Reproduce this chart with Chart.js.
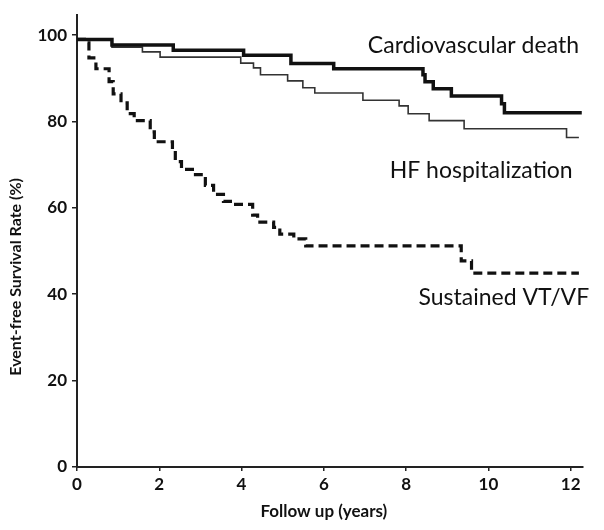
<!DOCTYPE html>
<html>
<head>
<meta charset="utf-8">
<script src="https://cdn.jsdelivr.net/npm/chart.js@4/dist/chart.umd.min.js"></script>
<style>
  html, body { margin: 0; padding: 0; background: #fff; }
  #wrap { width: 604px; height: 530px; }
</style>
</head>
<body>
<div id="wrap"><canvas id="c" width="604" height="530"></canvas></div>
<script>
// ---- data ----
const cvYears = [0, 0.85, 2.34, 4.05, 5.20, 6.24, 8.41, 8.46, 8.66, 9.10, 10.32, 10.39, 12.27];
const cvSurv  = [99.0, 97.7, 96.5, 95.3, 93.4, 92.2, 90.8, 89.2, 87.6, 85.9, 84.1, 82.0, 82.0];

const hfYears = [0, 0.85, 1.59, 2.02, 3.98, 4.29, 4.46, 5.12, 5.49, 5.78, 6.95, 7.83, 8.05, 8.56, 9.41, 11.90, 12.20];
const hfSurv  = [99.0, 97.2, 96.1, 94.9, 93.5, 92.4, 90.8, 89.4, 87.8, 86.6, 84.9, 83.6, 81.8, 80.2, 78.3, 76.3, 76.3];

const vtYears = [0, 0.22, 0.29, 0.46, 0.78, 0.88, 1.07, 1.22, 1.39, 1.78, 1.88, 2.32, 2.39, 2.54, 2.88, 3.12, 3.32, 3.56, 3.80, 4.27, 4.39, 4.78, 4.93, 5.27, 5.56, 9.34, 9.59, 12.20];
const vtSurv  = [99.0, 98.2, 94.7, 92.2, 89.2, 86.4, 84.3, 81.8, 80.2, 77.6, 75.3, 73.5, 70.7, 68.9, 67.7, 65.2, 63.1, 61.5, 60.8, 58.3, 56.7, 55.5, 53.9, 52.8, 51.2, 47.7, 44.9, 44.9];

const seriesNames = ["Cardiovascular death", "HF hospitalization", "Sustained VT/VF"];
const xTicks = [0, 2, 4, 6, 8, 10, 12];
const yTicks = [0, 20, 40, 60, 80, 100];
const xTitle = "Follow up (years)";
const yTitle = "Event-free Survival Rate (%)";

// label anchors in data units (left edge x, vertical centre y)
const labelX = [7.07, 7.60, 8.30];
const labelY = [97.5, 68.7, 39.2];

const toPts = (xs, ys) => xs.map((x, i) => ({ x: x, y: ys[i] }));

const FONT = "Lato, 'Open Sans', 'DejaVu Sans', sans-serif";

const textPlugin = {
  id: 'texts',
  afterDraw(chart) {
    const ctx = chart.ctx;
    const xs = chart.scales.x, ys = chart.scales.y;
    ctx.save();
    ctx.fillStyle = '#111';
    ctx.font = "23px " + FONT;
    ctx.textBaseline = 'middle';
    ctx.textAlign = 'left';
    seriesNames.forEach((t, i) => {
      ctx.fillText(t, xs.getPixelForValue(labelX[i]), ys.getPixelForValue(labelY[i]));
    });
    // axis titles
    ctx.font = "bold 17px " + FONT;
    ctx.textAlign = 'center';
    ctx.fillText(xTitle, xs.getPixelForValue(6), chart.chartArea.bottom + 45);
    ctx.translate(chart.chartArea.left - 61, ys.getPixelForValue(44));
    ctx.rotate(-Math.PI / 2);
    ctx.font = "bold 16px " + FONT;
    ctx.fillText(yTitle, 0, 0);
    ctx.restore();
  }
};

const bgPlugin = {
  id: 'bg',
  beforeDraw(chart) {
    const ctx = chart.ctx;
    ctx.save();
    ctx.fillStyle = '#fff';
    ctx.fillRect(0, 0, chart.width, chart.height);
    ctx.restore();
  }
};

new Chart(document.getElementById('c'), {
  type: 'line',
  data: {
    datasets: [
      { label: seriesNames[0], data: toPts(cvYears, cvSurv), stepped: true,
        borderColor: '#111', borderWidth: 3.5, pointRadius: 0, fill: false },
      { label: seriesNames[1], data: toPts(hfYears, hfSurv), stepped: true,
        borderColor: '#333', borderWidth: 1.6, pointRadius: 0, fill: false },
      { label: seriesNames[2], data: toPts(vtYears, vtSurv), stepped: true,
        borderColor: '#111', borderWidth: 3.2, borderDash: [9, 5], pointRadius: 0, fill: false }
    ]
  },
  options: {
    responsive: false,
    animation: false,
    devicePixelRatio: 1,
    layout: { padding: { top: 13, right: 21, left: 0, bottom: 0 } },
    plugins: { legend: { display: false }, tooltip: { enabled: false } },
    scales: {
      x: {
        type: 'linear', min: 0, max: 12.3,
        afterFit: s => { s.height = 63; },
        afterBuildTicks: s => { s.ticks = xTicks.map(v => ({ value: v })); },
        grid: { drawOnChartArea: false, drawTicks: true, tickLength: 4, color: '#222', lineWidth: 1.5 },
        border: { color: '#222', width: 2 },
        ticks: { color: '#111', padding: 3, maxRotation: 0, font: { family: FONT, size: 17, weight: 'bold' } }
      },
      y: {
        type: 'linear', min: 0, max: 104.6,
        afterFit: s => { s.width = 77; },
        afterBuildTicks: s => { s.ticks = yTicks.map(v => ({ value: v })); },
        grid: { drawOnChartArea: false, drawTicks: true, tickLength: 5, color: '#222', lineWidth: 1.5 },
        border: { color: '#222', width: 2 },
        ticks: { color: '#111', padding: 5, font: { family: FONT, size: 17, weight: 'bold' } }
      }
    }
  },
  plugins: [bgPlugin, textPlugin]
});
</script>
</body>
</html>
